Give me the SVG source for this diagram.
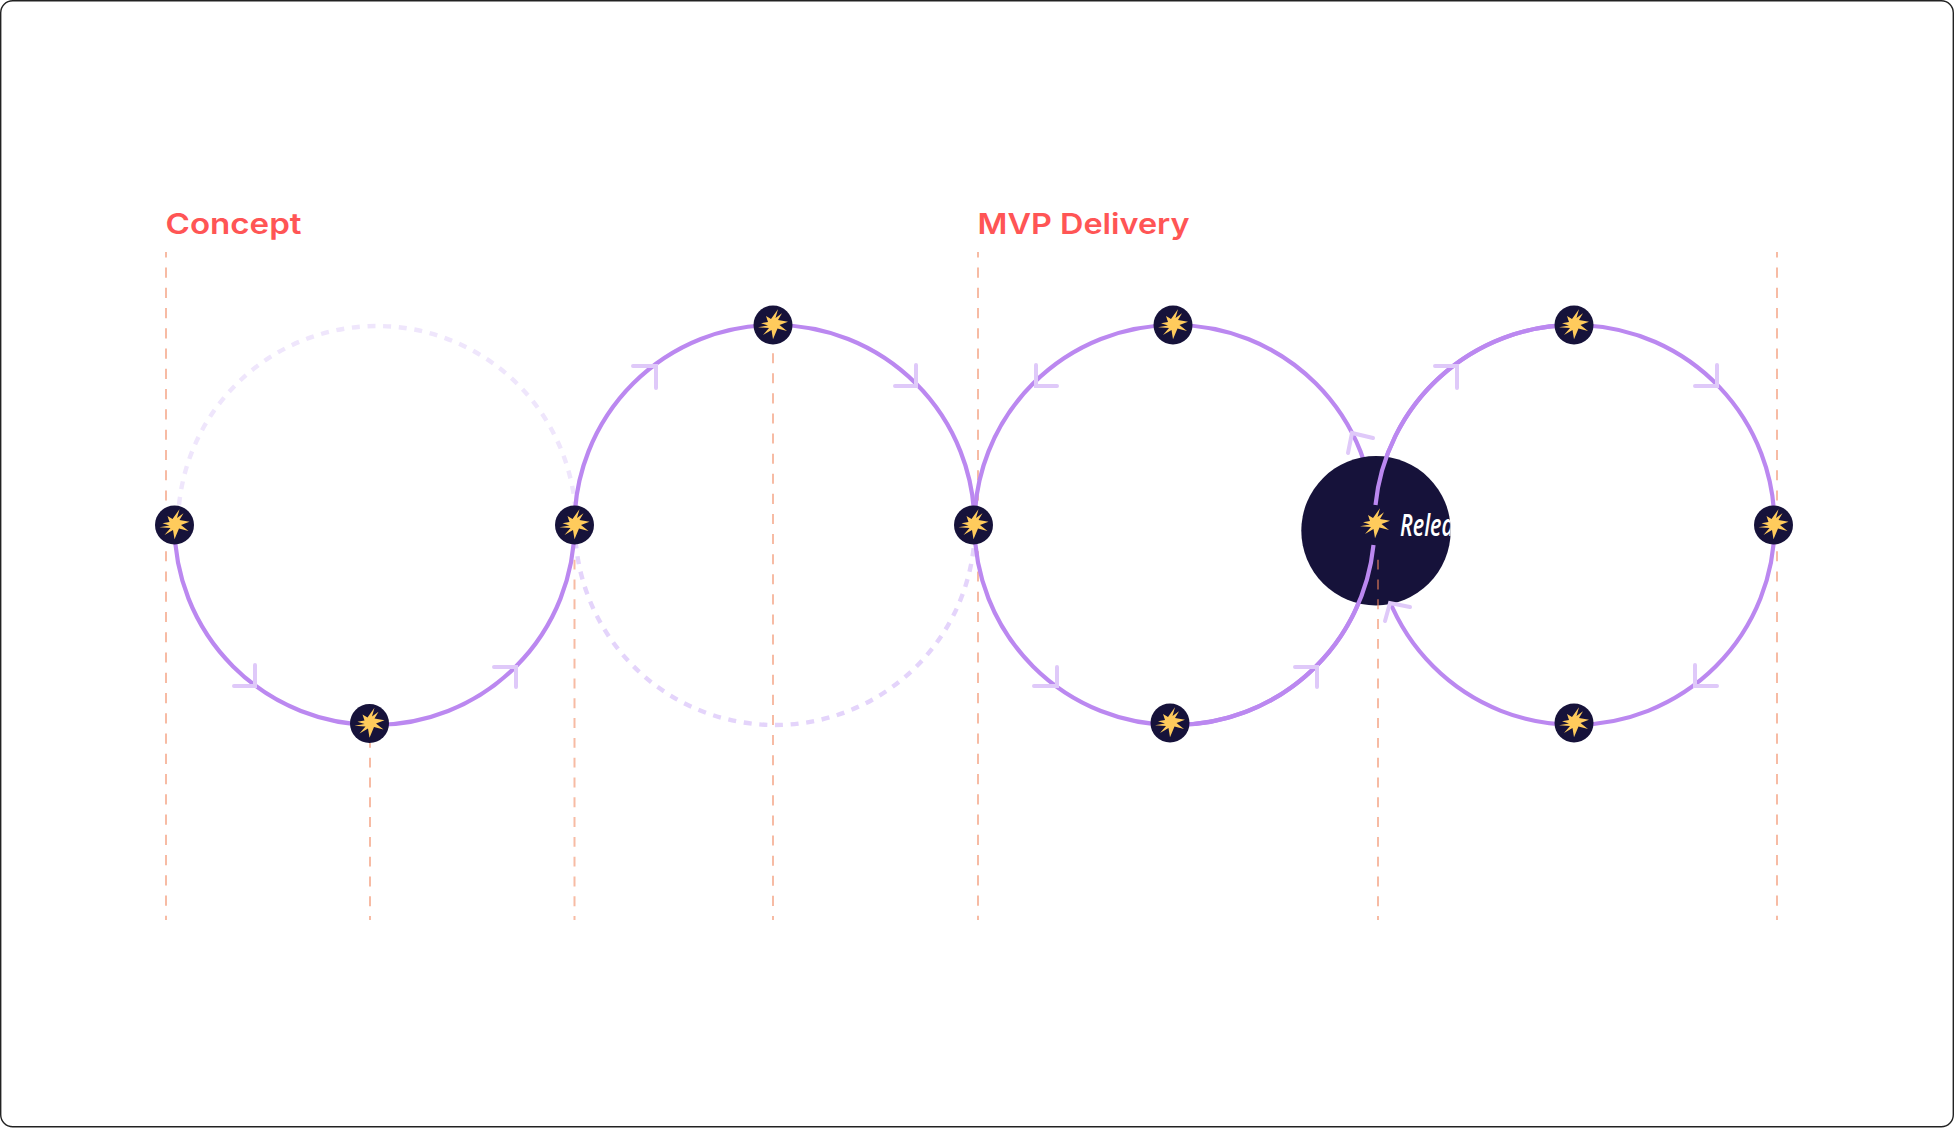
<svg xmlns="http://www.w3.org/2000/svg" xmlns:xlink="http://www.w3.org/1999/xlink" width="1954" height="1128" viewBox="0 0 1954 1128">
<style>
.frame{fill:#fff;stroke:#222;stroke-width:1.4}
.arc{fill:none;stroke:#bb88f0;stroke-width:4.2}
.ghost1{fill:none;stroke:#efe6fc;stroke-width:4.4;stroke-dasharray:8 7.7}
.ghost2{fill:none;stroke:#e4d4fb;stroke-width:4.4;stroke-dasharray:8 7.7}
.guide{fill:none;stroke:#f0845a;stroke-opacity:.55;stroke-width:2}
.long{stroke-dasharray:10.13 10.13;stroke-dashoffset:6}
.short{stroke-dasharray:9.9 9.9;stroke-dashoffset:6}
.mid{stroke-dasharray:10.05 10.05;stroke-dashoffset:6}
.chev{fill:none;stroke:#dfc9f9;stroke-width:4;stroke-linecap:round}
.dot{fill:#16123a}
.star{fill:#ffcb5c}
.title{font-family:"Inter","Liberation Sans",sans-serif;font-weight:600;font-size:29px;fill:#ff5555}
.rel{font-family:"Open Sans","Liberation Sans",sans-serif;font-style:italic;font-weight:600;font-size:30px;fill:#fff}
</style>
<defs>
<polygon id="s" class="star" points="5,-15.7 2.5,-7 9,-11.7 5,-5 15,-3.3 6.5,0 14,6 4.5,3.5 0,14.3 -1.5,5 -10,10 -4,3 -15,2.3 -5,0.5 -12,-1.7 -5,-3 -7,-9 -2,-6"/>
<g id="n"><circle class="dot" r="19.5"/><use xlink:href="#s" href="#s"/></g>
<clipPath id="bigclip"><circle cx="1376" cy="530.7" r="74.7"/></clipPath>
</defs>
<rect class="frame" x="0.7" y="0.7" width="1952.6" height="1126" rx="12"/>
<g id="labels">
<text class="title" x="165.5" y="234" textLength="136" lengthAdjust="spacingAndGlyphs">Concept</text>
<text class="title" x="977.5" y="234" textLength="212" lengthAdjust="spacingAndGlyphs">MVP Delivery</text>
</g>
<g id="connectors">
<path class="guide long" d="M166 920V252M978 920V252M1777 920V252"/>
<path class="guide mid" d="M773 920V352"/>
<path class="guide short" d="M574.5 920V558M370 920V743"/>
<path class="ghost1" d="M576 525A199 199 0 0 0 178 525"/>
<path class="ghost2" d="M575 525A200 200 0 0 0 975 525"/>
<path class="arc" d="M174.5 525A200 200 0 0 0 574.5 525"/>
<path class="arc" d="M574.5 525A200 200 0 0 1 974.5 525"/>
<path class="arc" d="M974.5 525A200 200 0 0 1 1374.5 525"/>
<path class="arc" d="M974.5 525A200 200 0 0 0 1374.5 525"/>
<path class="arc" d="M1774.5 525A200 200 0 0 0 1375.5 505"/>
<path class="arc" d="M1774.5 525A200 200 0 0 1 1374.5 525"/>
</g>
<g id="node-release">
<circle class="dot" cx="1376" cy="530.7" r="74.7"/>
<use xlink:href="#s" href="#s" x="1375" y="524"/>
<text class="rel" x="1400" y="536" clip-path="url(#bigclip)" textLength="54" lengthAdjust="spacingAndGlyphs">Relea</text>
</g>
<g id="connectors-front">
<path class="guide short" d="M1378 920V558"/>
<path class="arc" d="M1574.5 325A200 200 0 0 0 1375.5 505"/>
<path class="arc" d="M1373.5 545A200 200 0 0 1 1174.5 725"/>
<g id="arrowheads">
<path class="chev" d="M255 665V686H234"/>
<path class="chev" d="M494 667H516V687"/>
<path class="chev" d="M633 366H656V388"/>
<path class="chev" d="M916 365V386H895"/>
<path class="chev" d="M1036 365V386H1057"/>
<path class="chev" d="M1348 453L1352 433L1373 438"/>
<path class="chev" d="M1057 667V686H1034"/>
<path class="chev" d="M1295 667H1317V687"/>
<path class="chev" d="M1435 366H1457V388"/>
<path class="chev" d="M1717 365V386H1695"/>
<path class="chev" d="M1695 665V686H1717"/>
<path class="chev" d="M1385 621L1390 603L1410 607"/>
</g>
</g>
<g id="nodes">
<use id="node-1" xlink:href="#n" href="#n" x="174.5" y="525"/>
<use id="node-2" xlink:href="#n" href="#n" x="369.5" y="723.5"/>
<use id="node-3" xlink:href="#n" href="#n" x="574.5" y="525"/>
<use id="node-4" xlink:href="#n" href="#n" x="773" y="325"/>
<use id="node-5" xlink:href="#n" href="#n" x="973.5" y="525"/>
<use id="node-6" xlink:href="#n" href="#n" x="1173" y="325"/>
<use id="node-7" xlink:href="#n" href="#n" x="1170" y="723"/>
<use id="node-8" xlink:href="#n" href="#n" x="1574" y="325"/>
<use id="node-9" xlink:href="#n" href="#n" x="1574" y="723"/>
<use id="node-10" xlink:href="#n" href="#n" x="1773.5" y="525"/>
</g>
</svg>
